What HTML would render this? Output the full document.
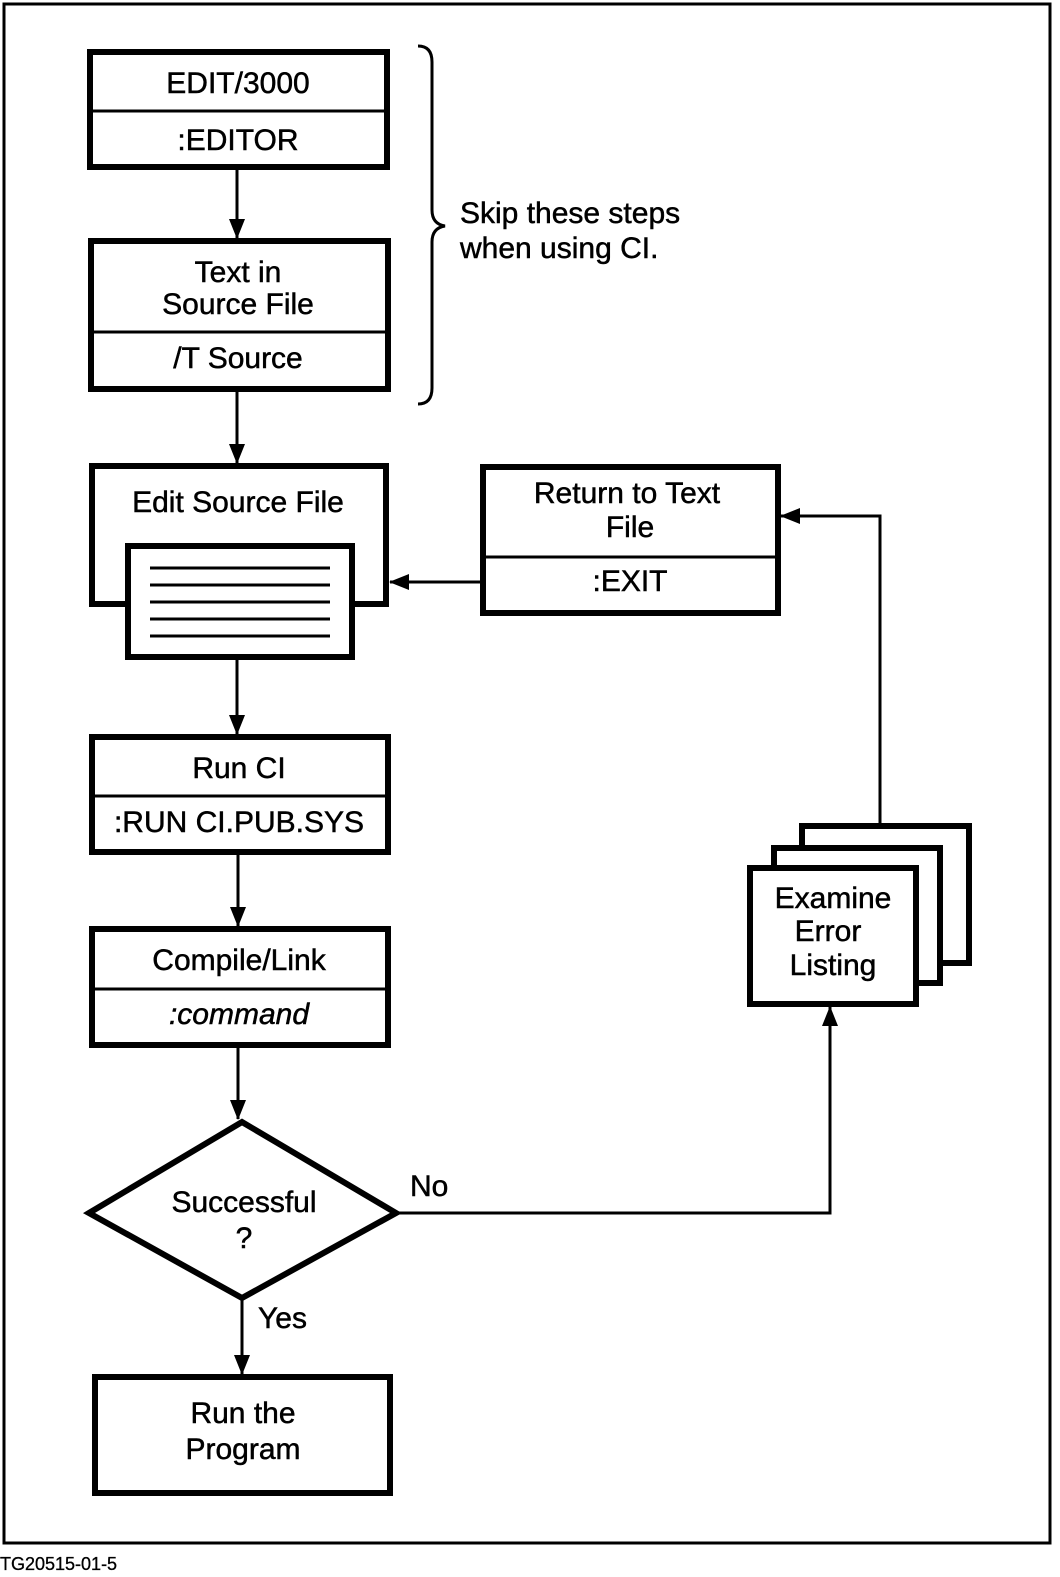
<!DOCTYPE html>
<html><head><meta charset="utf-8"><style>
html,body{margin:0;padding:0;background:#fff}
svg{display:block}
text{font-family:"Liberation Sans",Arial,sans-serif;fill:#000;stroke:#000;stroke-width:0.5}
</style></head><body>
<svg width="1060" height="1577" viewBox="0 0 1060 1577" xmlns="http://www.w3.org/2000/svg">
<defs>
<marker id="a" markerWidth="20" markerHeight="16" refX="19" refY="8" orient="auto" markerUnits="userSpaceOnUse">
<path d="M0,0 L20,8 L0,16 z" fill="#000"/></marker>
</defs>
<rect x="4" y="4" width="1046" height="1539" fill="none" stroke="#000" stroke-width="3"/>
<g fill="#fff" stroke="#000" stroke-width="6">
<rect x="90" y="52" width="297" height="115"/>
<rect x="91" y="241" width="297" height="148"/>
<rect x="483" y="467" width="295" height="146"/>
<rect x="92" y="737" width="296" height="115"/>
<rect x="92" y="929" width="296" height="116"/>
<rect x="95" y="1377" width="295" height="116"/>
<polygon points="89,1213 242,1122 396,1213 242,1298"/>
<rect x="802" y="826" width="167" height="137"/>
<rect x="774" y="848" width="166" height="135"/>
<rect x="750" y="868" width="166" height="136"/>
<path d="M128,604 L92,604 L92,466 L386,466 L386,604 L352,604"/>
<rect x="128" y="546" width="224" height="111"/>
</g>
<g stroke="#000" stroke-width="3" fill="none">
<line x1="90" y1="111" x2="387" y2="111"/>
<line x1="91" y1="332" x2="388" y2="332"/>
<line x1="483" y1="557" x2="778" y2="557"/>
<line x1="92" y1="796" x2="388" y2="796"/>
<line x1="92" y1="989" x2="388" y2="989"/>
<line x1="150" y1="568" x2="330" y2="568"/>
<line x1="150" y1="585" x2="330" y2="585"/>
<line x1="150" y1="602" x2="330" y2="602"/>
<line x1="150" y1="619" x2="330" y2="619"/>
<line x1="150" y1="636" x2="330" y2="636"/>
<line x1="237" y1="170" x2="237" y2="238" marker-end="url(#a)"/>
<line x1="237" y1="392" x2="237" y2="463" marker-end="url(#a)"/>
<line x1="237" y1="660" x2="237" y2="734" marker-end="url(#a)"/>
<line x1="238" y1="855" x2="238" y2="926" marker-end="url(#a)"/>
<line x1="238" y1="1048" x2="238" y2="1119" marker-end="url(#a)"/>
<line x1="242" y1="1300" x2="242" y2="1374" marker-end="url(#a)"/>
<polyline points="398,1213 830,1213 830,1007" marker-end="url(#a)"/>
<polyline points="880,823 880,516 781,516" marker-end="url(#a)"/>
<line x1="480" y1="582" x2="390" y2="582" marker-end="url(#a)"/>
<path d="M418,46 Q432,46 432,62 L432,210 Q432,224 445,226 Q432,228 432,242 L432,388 Q432,404 418,404"/>
</g>
<g font-size="30" text-anchor="middle">
<text x="238" y="93">EDIT/3000</text>
<text x="238" y="150">:EDITOR</text>
<text x="238" y="282">Text in</text>
<text x="238" y="314">Source File</text>
<text x="238" y="368">/T Source</text>
<text x="238" y="512">Edit Source File</text>
<text x="627" y="503">Return to Text</text>
<text x="630" y="537">File</text>
<text x="630" y="591">:EXIT</text>
<text x="239" y="778">Run CI</text>
<text x="239" y="832">:RUN CI.PUB.SYS</text>
<text x="239" y="970">Compile/Link</text>
<text x="239" y="1024" font-style="italic">:command</text>
<text x="244" y="1212">Successful</text>
<text x="244" y="1248">?</text>
<text x="243" y="1423">Run the</text>
<text x="243" y="1459">Program</text>
<text x="833" y="908">Examine</text>
<text x="828" y="941">Error</text>
<text x="833" y="975">Listing</text>
</g>
<g font-size="30">
<text x="460" y="223">Skip these steps</text>
<text x="460" y="258">when using CI.</text>
<text x="410" y="1196">No</text>
<text x="258" y="1328">Yes</text>
</g>
<text x="0" y="1570" font-size="18" style="stroke-width:0.3">TG20515-01-5</text>
</svg>
</body></html>
